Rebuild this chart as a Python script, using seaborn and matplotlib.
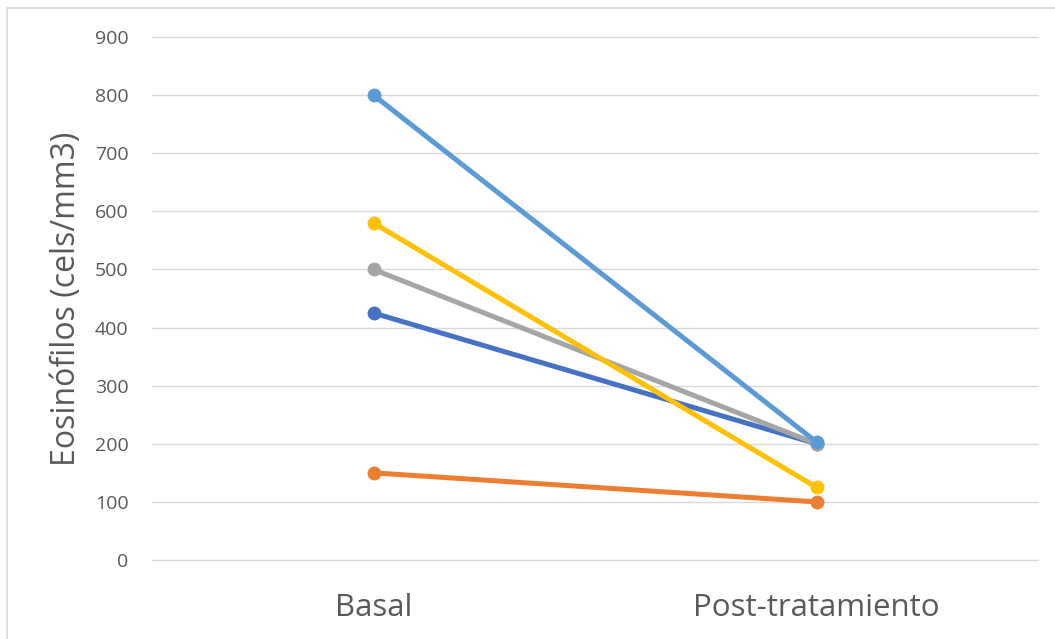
import matplotlib
matplotlib.use("Agg")
import matplotlib.pyplot as plt
import pandas as pd
import seaborn as sns
from matplotlib.lines import Line2D

# Eosinophil counts per patient, before and after treatment
momentos = ["Basal", "Post-tratamiento"]
paciente_1 = [425, 200]
paciente_2 = [150, 100]
paciente_3 = [500, 200]
paciente_4 = [580, 125]
paciente_5 = [800, 203]
colores = ["#4472C4", "#ED7D31", "#A5A5A5", "#FFC000", "#5B9BD5"]
y_ticks = [0, 100, 200, 300, 400, 500, 600, 700, 800, 900]

series = {
    "P1": paciente_1,
    "P2": paciente_2,
    "P3": paciente_3,
    "P4": paciente_4,
    "P5": paciente_5,
}
df = pd.DataFrame(
    [(nombre, m, v) for nombre, vals in series.items() for m, v in zip(momentos, vals)],
    columns=["paciente", "momento", "eosinofilos"],
)

sns.set_theme(style="white")
plt.rcParams["font.family"] = ["Open Sans", "DejaVu Sans"]

fig = plt.figure(figsize=(10.55, 6.39), dpi=100)
ax = fig.add_axes([152 / 1055, 1 - 560 / 639, (1038 - 152) / 1055, (560 - 37) / 639])

sns.lineplot(
    data=df, x="momento", y="eosinofilos", hue="paciente",
    palette=colores, marker="o", markersize=10, markeredgewidth=0,
    linewidth=3.6, legend=False, ax=ax, zorder=3,
)

ax.set_xlim(-0.5, 1.5)
ax.set_ylim(0, 900)
ax.set_yticks(y_ticks)
ax.set_xticks([0, 1])
ax.set_xticklabels(momentos)
ax.grid(axis="y", color="#D9D9D9", linewidth=1.0, zorder=0)
ax.grid(axis="x", visible=False)
for gl in ax.get_ygridlines():
    gl.set_clip_on(False)
for s in ax.spines.values():
    s.set_visible(False)

ax.tick_params(axis="y", length=0, pad=17, labelsize=14, labelcolor="#595959")
ax.tick_params(axis="x", length=0, pad=24, labelsize=22.5, labelcolor="#595959")
ax.set_xlabel("")
ax.set_ylabel("Eosinófilos (cels/mm3)", fontsize=23, color="#595959")
ax.yaxis.set_label_coords(-0.078, 0.5)

# Chart area frame (top and left edges visible)
fig.add_artist(Line2D([7 / 1055, 7 / 1055], [0, 1 - 8 / 639], transform=fig.transFigure,
                      color="#D9D9D9", linewidth=1.2))
fig.add_artist(Line2D([7 / 1055, 1], [1 - 8 / 639, 1 - 8 / 639], transform=fig.transFigure,
                      color="#D9D9D9", linewidth=1.2))

fig.savefig("out.png", dpi=100)
